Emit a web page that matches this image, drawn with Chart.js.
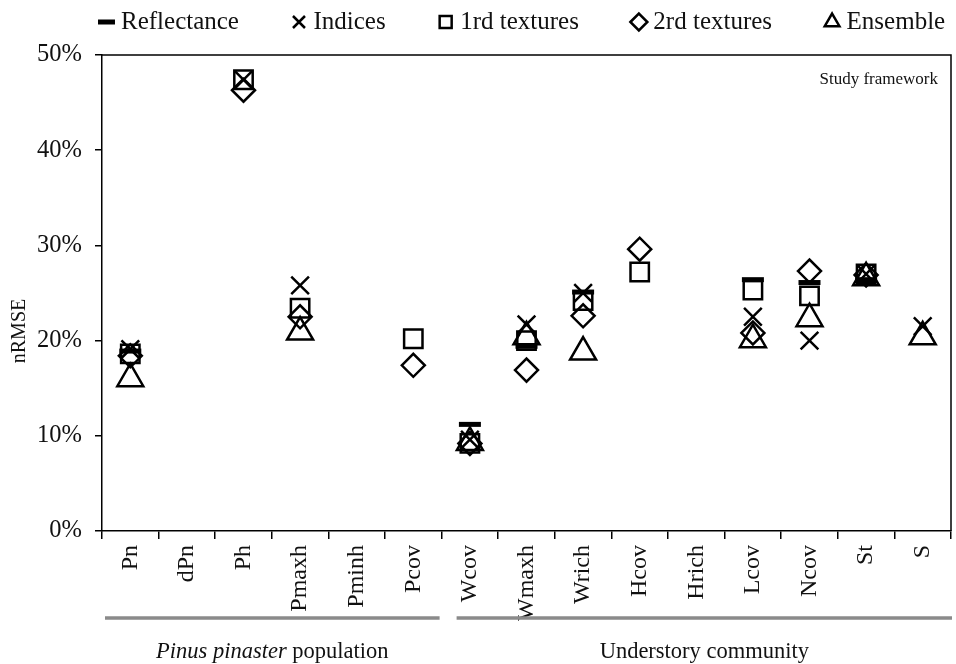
<!DOCTYPE html>
<html>
<head>
<meta charset="utf-8">
<script src="https://cdn.jsdelivr.net/npm/chart.js@4/dist/chart.umd.min.js"></script>
<style>
  html, body { margin: 0; padding: 0; background: #fff; overflow: hidden; }
  #wrap { width: 956px; height: 664px; position: relative; }
</style>
</head>
<body>
<div id="wrap"><canvas id="chart"></canvas></div>
<script>
// Response variables along the x axis
const categories = ['Pn', 'dPn', 'Ph', 'Pmaxh', 'Pminh', 'Pcov', 'Wcov', 'Wmaxh',
                    'Wrich', 'Hcov', 'Hrich', 'Lcov', 'Ncov', 'St', 'S'];

// nRMSE (%) per predictor set; null = no model
const reflectance = [18.9, null, null, null, null, null, 11.2, 19.4, 25.1, null, null, 26.4, 26.1, 26.4, null];
const indices     = [19.1, null, 47.4, 25.8, null, null, 9.6, 21.7, 25.0, null, null, 22.5, 20.0, 27.0, 21.5];
const textures1   = [18.6, null, 47.4, 23.4, null, 20.2, 9.2, 20.0, 24.2, 27.2, null, 25.3, 24.7, 27.0, null];
const textures2   = [18.4, null, 46.3, 22.5, null, 17.4, 9.2, 16.9, 22.6, 29.6, null, 20.8, 27.3, 26.9, null];
const ensemble    = [16.0, null, null, 20.9, null, null, 9.3, 20.4, 18.8, null, null, 20.1, 22.3, 26.6, 20.4];

const seriesNames = ['Reflectance', 'Indices', '1rd textures', '2rd textures', 'Ensemble'];

// y axis tick values (%)
const yTicks = [0, 10, 20, 30, 40, 50];

// Category groups shown under the axis: [first index, last index]
const groupRanges = [[0, 5], [6, 14]];
const groupItalic = ['Pinus pinaster', ''];
const groupPlain  = [' population', 'Understory community'];

const SERIF = '"Liberation Serif", "Times New Roman", serif';
const INK = '#000';

function series(label, data, style, radius, width) {
  return {
    label, data,
    showLine: false,
    pointStyle: style,
    pointRadius: radius,
    pointHoverRadius: radius,
    pointBorderWidth: width,
    pointHoverBorderWidth: width,
    pointBorderColor: INK,
    pointBackgroundColor: 'rgba(0,0,0,0)',
    borderColor: INK,
    backgroundColor: 'rgba(0,0,0,0)',
  };
}

// Legend geometry
const LEGEND_HEIGHT = 55;
const LEGEND_CENTER_Y = 22;
const LEGEND_FIRST_TEXT_X = 121;

const decorations = {
  id: 'decorations',
  beforeLayout(chart) {
    const lg = chart.legend;
    if (lg && !lg._fixedHeight) {
      const fit = lg.fit.bind(lg);
      lg.fit = function () { fit(); this.height = LEGEND_HEIGHT; };
      lg._fixedHeight = true;
    }
  },
  afterLayout(chart) {
    const lg = chart.legend;
    const lo = lg.options.labels;
    const fs = lo.font.size;
    const bw = Math.min(lo.boxWidth, fs);
    lg.top = LEGEND_CENTER_Y - lo.padding - fs / 2;
    lg.left = LEGEND_FIRST_TEXT_X - lo.padding - bw - fs / 2;
    lg.right = 3000;
  },
  afterDraw(chart) {
    const { ctx, chartArea: a, scales } = chart;
    const xs = scales.x;
    ctx.save();

    // top and right frame lines
    ctx.strokeStyle = INK;
    ctx.lineWidth = 1.5;
    ctx.beginPath();
    ctx.moveTo(a.left, a.top);
    ctx.lineTo(a.right, a.top);
    ctx.lineTo(a.right, a.bottom);
    ctx.stroke();

    // panel note
    ctx.fillStyle = '#111';
    ctx.font = '17px ' + SERIF;
    ctx.textAlign = 'right';
    ctx.textBaseline = 'middle';
    ctx.fillText('Study framework', a.right - 13, a.top + 25);

    // y axis title
    ctx.save();
    ctx.translate(20, 331);
    ctx.rotate(-Math.PI / 2);
    ctx.textAlign = 'center';
    ctx.font = '20px ' + SERIF;
    ctx.fillText('nRMSE', 0, 0);
    ctx.restore();

    // group bars and names
    const step = xs.getPixelForValue(1) - xs.getPixelForValue(0);
    const insets = [[3, -2], [15, 1]];
    groupRanges.forEach(([i0, i1], g) => {
      const x0 = xs.getPixelForValue(i0) - step / 2 + insets[g][0];
      const x1 = xs.getPixelForValue(i1) + step / 2 + insets[g][1];
      ctx.strokeStyle = '#8a8a8a';
      ctx.lineWidth = 3.5;
      ctx.beginPath();
      ctx.moveTo(x0, 618);
      ctx.lineTo(x1, 618);
      ctx.stroke();

      const fItal = 'italic 22.5px ' + SERIF;
      const fPlain = '22.5px ' + SERIF;
      ctx.font = fItal;
      const wI = groupItalic[g] ? ctx.measureText(groupItalic[g]).width : 0;
      ctx.font = fPlain;
      const wP = ctx.measureText(groupPlain[g]).width;
      let tx = (x0 + x1) / 2 - (wI + wP) / 2;
      ctx.fillStyle = '#111';
      ctx.textAlign = 'left';
      ctx.textBaseline = 'middle';
      if (wI) { ctx.font = fItal; ctx.fillText(groupItalic[g], tx, 652); tx += wI; }
      ctx.font = fPlain;
      ctx.fillText(groupPlain[g], tx, 652);
    });
    ctx.restore();
  }
};

new Chart(document.getElementById('chart'), {
  type: 'line',
  data: {
    labels: categories,
    datasets: [
      series(seriesNames[0], reflectance, 'line', 11, 5),
      series(seriesNames[1], indices, 'crossRot', 12.5, 2.5),
      series(seriesNames[2], textures1, 'rect', 13, 2.5),
      series(seriesNames[3], textures2, 'rectRot', 11.5, 2.5),
      series(seriesNames[4], ensemble, 'triangle', 15, 2.5),
    ]
  },
  options: {
    responsive: true,
    maintainAspectRatio: false,
    animation: false,
    events: [],
    layout: { autoPadding: false, padding: { left: 0, right: 5, top: 0, bottom: 0 } },
    plugins: {
      legend: {
        position: 'top',
        align: 'start',
        labels: {
          usePointStyle: true,
          boxWidth: 4,
          boxHeight: 12,
          padding: 58,
          color: '#111',
          font: { family: SERIF, size: 25 }
        }
      },
      tooltip: { enabled: false }
    },
    scales: {
      x: {
        type: 'category',
        offset: true,
        afterFit: s => { s.height = 133; s.paddingLeft = 0; s.paddingRight = 0; },
        grid: { drawOnChartArea: false, drawTicks: true, tickLength: 8, color: INK, lineWidth: 1.5, offset: true },
        border: { display: true, color: INK, width: 1.5 },
        ticks: {
          autoSkip: false, minRotation: 90, maxRotation: 90, padding: 6,
          color: '#111', font: { family: SERIF, size: 24 }
        }
      },
      y: {
        min: 0, max: 50,
        afterFit: s => { s.width = 102; },
        afterBuildTicks: s => { s.ticks = yTicks.map(v => ({ value: v })); },
        grid: { drawOnChartArea: false, drawTicks: true, tickLength: 7, color: INK, lineWidth: 1.5 },
        border: { display: true, color: INK, width: 1.5 },
        ticks: {
          padding: 13, color: '#111', font: { family: SERIF, size: 24.5 },
          callback: v => v + '%'
        }
      }
    }
  },
  plugins: [decorations]
});
</script>
</body>
</html>
